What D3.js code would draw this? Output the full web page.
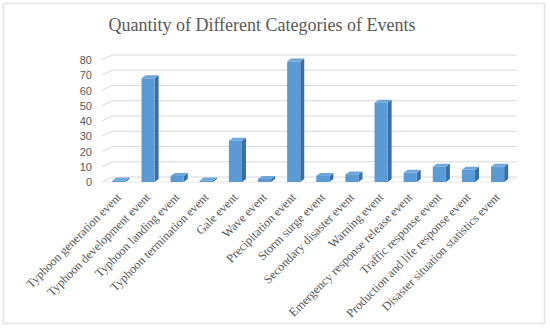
<!DOCTYPE html>
<html>
<head>
<meta charset="utf-8">
<style>
    body { margin: 0; background: #fff; }
    svg { display: block; }
    .title { font-family: 'Liberation Serif', 'Times New Roman', serif; font-size: 18px; fill: #595959; }
    .y .tick text { font-family: 'Liberation Sans', Arial, sans-serif; font-size: 11px; fill: #595959; }
    .y .domain, .y .tick line { display: none; }
    .cat { font-family: 'Liberation Serif', 'Times New Roman', serif; font-size: 12.3px; fill: #595959; }
</style>
</head>
<body>
<svg width="550" height="329"></svg>
<script src="https://d3js.org/d3.v7.min.js"></script>
<script>
    let categories = [
        "Typhoon generation event",
        "Typhoon development event",
        "Typhoon landing event",
        "Typhoon termination event",
        "Gale event",
        "Wave event",
        "Precipitation event",
        "Storm surge event",
        "Secondary disaster event",
        "Warning event",
        "Emergency response release event",
        "Traffic response event",
        "Production and life response event",
        "Disaster situation statistics event"
    ]
    let counts = [1, 68, 4, 1, 27, 2, 79, 4, 5, 52, 6, 10, 8, 10]
    let yTicks = [0, 10, 20, 30, 40, 50, 60, 70, 80]

    let svg = d3.select("svg")

    // chart frame
    svg.append("rect")
        .attr("x", 3.5).attr("y", 3.5)
        .attr("width", 541).attr("height", 320)
        .attr("fill", "none")
        .attr("stroke", "#e3e3e3")
        .attr("stroke-width", 1.5)

    svg.append("text")
        .attr("class", "title")
        .attr("x", 262)
        .attr("y", 31)
        .attr("text-anchor", "middle")
        .text("Quantity of Different Categories of Events")

    // depth of the 3d walls and bars
    let wallDx = 10, wallDy = 5
    let barDx = 4, barDy = 3

    let x = d3.scaleBand()
        .domain(categories)
        .range([104.5, 512])
        .paddingInner(0.55)
        .paddingOuter(0.27)

    let y = d3.scaleLinear()
        .domain([0, 80])
        .range([182, 60])

    let x0 = 102, x1 = 517

    // gridlines: side wall slant then back wall
    svg.append("g")
        .selectAll("path")
        .data(yTicks)
        .join("path")
        .attr("fill", "none")
        .attr("stroke", "#d9d9d9")
        .attr("stroke-width", 1)
        .attr("d", d => `M${x0},${y(d)}L${x0 + wallDx},${y(d) - wallDy}L${x1},${y(d) - wallDy}`)

    // floor front edge
    svg.append("path")
        .attr("fill", "none")
        .attr("stroke", "#e6e6e6")
        .attr("d", `M${x0},${y(0)}L${x1 - wallDx},${y(0)}L${x1},${y(0) - wallDy}`)

    let yAxis = d3.axisLeft(y)
        .tickValues(yTicks)
        .tickSize(0)
        .tickPadding(0)

    svg.append("g")
        .attr("class", "y axis")
        .attr("transform", "translate(92,0)")
        .call(yAxis)

    // bars
    let bars = svg.append("g")
        .selectAll("g")
        .data(counts.map((v, i) => ({ cat: categories[i], v: v })))
        .join("g")

    let bw = x.bandwidth()

    bars.append("path")   // side
        .attr("fill", "#3a6fa3")
        .attr("d", d => {
            let l = x(d.cat) + bw, t = y(d.v), b = y(0)
            return `M${l},${t}L${l + barDx},${t - barDy}L${l + barDx},${b - barDy}L${l},${b}Z`
        })

    bars.append("path")   // top
        .attr("fill", "#6fa6dc")
        .attr("d", d => {
            let l = x(d.cat), t = y(d.v)
            return `M${l},${t}L${l + barDx},${t - barDy}L${l + bw + barDx},${t - barDy}L${l + bw},${t}Z`
        })

    bars.append("rect")   // front
        .attr("fill", "#5b9bd5")
        .attr("x", d => x(d.cat))
        .attr("y", d => y(d.v))
        .attr("width", bw)
        .attr("height", d => y(0) - y(d.v))

    // category labels
    svg.append("g")
        .selectAll("text")
        .data(categories)
        .join("text")
        .attr("class", "cat")
        .attr("text-anchor", "end")
        .attr("transform", d => `translate(${x(d) + bw / 2 + 3},${y(0) + 16}) rotate(-45)`)
        .text(d => d)
</script>
</body>
</html>
